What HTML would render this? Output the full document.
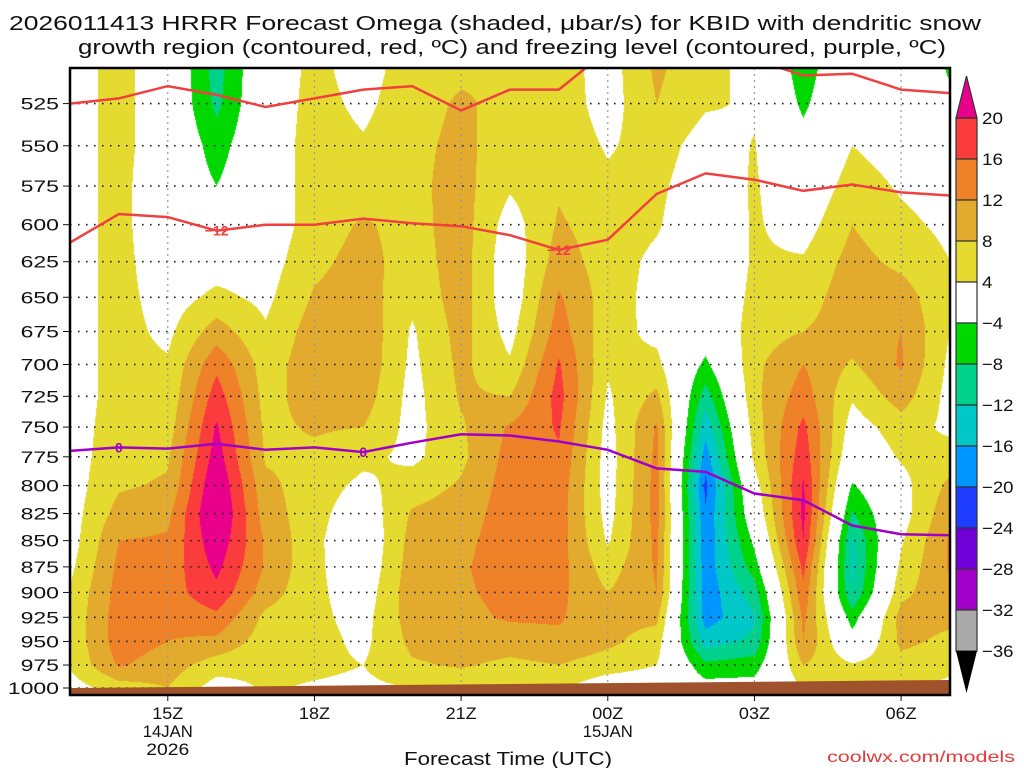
<!DOCTYPE html>
<html><head><meta charset="utf-8">
<style>
html,body{margin:0;padding:0;background:#fff;}
#wrap{position:relative;width:1024px;height:768px;overflow:hidden;background:#fff;font-family:"Liberation Sans",sans-serif;}
#shade{position:absolute;left:70px;top:68px;}
#ov{position:absolute;left:0;top:0;}
</style></head>
<body>
<div id="wrap">
<canvas id="shade" width="880" height="627"></canvas>
<svg id="ov" width="1024" height="768" xmlns="http://www.w3.org/2000/svg">
  <g id="grid"></g>
  <polygon id="terrain" fill="#a0522d"></polygon>
  <g id="lines"></g>
  <rect x="70" y="68" width="880" height="627" fill="none" stroke="#000" stroke-width="2.5"></rect>
  <g id="axes" font-family="Liberation Sans, sans-serif" fill="#111"></g>
  <g id="cbar"></g>
  <text x="495" y="30" font-size="20" text-anchor="middle" textLength="972" lengthAdjust="spacingAndGlyphs" fill="#111">2026011413 HRRR Forecast Omega (shaded, μbar/s) for KBID with dendritic snow</text>
  <text x="512" y="54" font-size="20" text-anchor="middle" textLength="868" lengthAdjust="spacingAndGlyphs" fill="#111">growth region (contoured, red, ºC) and freezing level (contoured, purple, ºC)</text>
  <text x="508" y="765" font-size="18" text-anchor="middle" textLength="208" lengthAdjust="spacingAndGlyphs" fill="#111">Forecast Time (UTC)</text>
  <text x="827" y="762" font-size="16" textLength="188" lengthAdjust="spacingAndGlyphs" fill="#e03c3c">coolwx.com/models</text>
</svg>
</div>
<script>
// ---- data ----
const times = [13,14,15,16,17,18,19,20,21,22,23,24,25,26,27,28,29,30,31];
const levels = [500,525,550,575,600,625,650,675,700,725,750,775,800,825,850,875,900,925,950,975,1000];
const omega13Z = [2,2,2,2,2,2,2,2,2,2,2,2,2,2,2,3,4.5,5,5,4.5,2];
const omega14Z = [5.5,5.5,5.5,5.5,5.5,5.5,5.5,5.5,5.5,5.5,6,6.5,7.5,9.5,12,13,13.5,14,14,12.5,6];
const omega15Z = [1,1,1,0,0,1,2,3,4.5,5,6,7.5,8.5,11,12.5,13.5,14,13,12,10,8];
const omega16Z = [-10,-9,-6,-4,-1,2,5,10,15,18,20.5,22,24,25,23,21,19,15,11,6,2];
const omega17Z = [1,1,1,1,1,2,3,4.5,6,6.5,7,7.5,9,10,11.5,11.5,10,7,6,5,4.5];
const omega18Z = [5,5.5,6,6,6,7,8.5,10,10.5,10,8.5,7,6,5.5,5,5,5,5,5.5,5,3.5];
const omega19Z = [2,3,4.5,6,8.5,9.5,10,11,11,10,8,5,3,1,0,0.5,1.5,2.5,3,4,3];
const omega20Z = [6,6.5,7,7,6.5,6,5,3.5,3,2.5,2.5,3,6,8.5,9.5,10,10.5,10,9,7.5,4];
const omega21Z = [7,8.5,9,9.5,10,10,10,9.5,9,8.5,7.5,7,8.5,10,11,11.5,11.5,11,10,8.5,5];
const omega22Z = [8,7,6,4.5,2,1,1,2.5,4.5,8,12.5,13.5,14,14,14,14,13,12.5,10,7,4];
const omega23Z = [6,6.5,7,7.5,8.5,10,12.5,14,16.5,17.5,16.5,15.5,14.5,14,14,13.5,13,12.5,11,8,4.5];
const omega00Z = [2,2,3.5,5,6,6,6,5.5,4.5,3.5,2.5,2,2,2.5,3.5,6,8,9,9,6,1];
const omega01Z = [9,8,6,5,4.5,3,2.5,3,5,9,12.5,13,13.5,13.5,13,12.5,12,9,6,4,1];
const omega02Z = [5,4.5,2,1,0,0,0,-1,-5,-10,-14.5,-18,-21,-19.5,-19,-18.5,-18.5,-18,-14,-7,-2];
const omega03Z = [3,3.5,4.2,4.5,4.5,4.5,5,6,7,7,6,5,2,0,-3,-6,-10,-12.5,-11,-6,-2];
const omega04Z = [-7,-5,-2,0,2,4.5,6,8,12,14,17,18.5,20.5,21,20,17,15,13,12,8,4];
const omega05Z = [2,2.5,4,6,8,9.5,10.5,10,7.5,4.5,2,0,-4.5,-8.5,-12.5,-13,-12,-6,-2,4.5,5];
const omega06Z = [1,1,2,3.5,5,7,10,12,12.5,10,6,4.5,2.5,2,3.5,5,7,9.5,9,6.5,4.5];
const omega07Z = [-5,-3,0,2,3,4,4.5,4,3,2.5,3,6,9,11,12.5,12.5,11,9,7,5,3];
const omegaColumns = [omega13Z,omega14Z,omega15Z,omega16Z,omega17Z,omega18Z,omega19Z,omega20Z,omega21Z,omega22Z,omega23Z,omega00Z,omega01Z,omega02Z,omega03Z,omega04Z,omega05Z,omega06Z,omega07Z];
// isotherm pressures (hPa) at each hour
const upperIsotherm = [525,522,515,520,527,522,517,515,529,517,517,495,485,490,500,509,508,517,519];
const minus12Isotherm = [612,593,595,604,600,600,596,599,601,607,617,610,580,567,571,578,574,579,581];
const freezingLevel = [770,767,768,764,769,767,771,763,756,757,762,769,785,788,807,813,836,844,845];
const yTickLevels = [525,550,575,600,625,650,675,700,725,750,775,800,825,850,875,900,925,950,975,1000];
const xTickTimes = [15,18,21,24,27,30];
const xTickLabels = ["15Z","18Z","21Z","00Z","03Z","06Z"];
const cbarLabels = ["20","16","12","8","4","−4","−8","−12","−16","−20","−24","−28","−32","−36"];
const cbarColors = ["#fb3c3c","#ef8228","#e3ab2e","#e5da30","#ffffff","#00d800","#00d28c","#00c8c8","#0096ff","#1e3cff","#7000d8","#a000c8","#aaaaaa"];

// ---- scales ----
const X0=70,X1=950,Y0=68,Y1=695;
function xs(t){return X0+(t-13)*(X1-X0)/18;}
function ys(p){return 688-907*Math.log(1000/p);}
function tOf(x){return 13+(x-X0)*18/(X1-X0);}
function pOf(y){return 1000*Math.exp(-(688-y)/907);}
function colorOf(v){
  if(v>=20) return [232,0,138];
  if(v>=16) return [251,60,60];
  if(v>=12) return [239,130,40];
  if(v>=8) return [227,171,46];
  if(v>=4) return [229,218,48];
  if(v>-4) return [255,255,255];
  if(v>-8) return [0,216,0];
  if(v>-12) return [0,210,140];
  if(v>-16) return [0,200,200];
  if(v>-20) return [0,150,255];
  if(v>-24) return [30,60,255];
  if(v>-28) return [112,0,216];
  if(v>-32) return [160,0,200];
  if(v>-36) return [170,170,170];
  return [0,0,0];
}
// ---- shading ----
(function(){
  const cv=document.getElementById('shade');const ctx=cv.getContext('2d');
  const W=cv.width,H=cv.height;const img=ctx.createImageData(W,H);
  const nT=times.length,nL=levels.length;
  for(let j=0;j<H;j++){
    let p=pOf(Y0+j+0.5);p=Math.max(levels[0],Math.min(levels[nL-1],p));
    let r=(p-levels[0])/25;let r0=Math.min(nL-2,Math.floor(r));let fr=r-r0;
    for(let i=0;i<W;i++){
      let t=tOf(X0+i+0.5);t=Math.max(times[0],Math.min(times[nT-1],t));
      let c=t-times[0];let c0=Math.min(nT-2,Math.floor(c));let fc=c-c0;
      const a=omegaColumns[c0],b=omegaColumns[c0+1];
      const v=(a[r0]*(1-fr)+a[r0+1]*fr)*(1-fc)+(b[r0]*(1-fr)+b[r0+1]*fr)*fc;
      const col=colorOf(v);const k=(j*W+i)*4;
      img.data[k]=col[0];img.data[k+1]=col[1];img.data[k+2]=col[2];img.data[k+3]=255;
    }
  }
  ctx.putImageData(img,0,0);
})();
const NS='http://www.w3.org/2000/svg';
function mk(tag,attrs,parent){const e=document.createElementNS(NS,tag);for(const k in attrs)e.setAttribute(k,attrs[k]);parent.appendChild(e);return e;}
// grid
const grid=document.getElementById('grid');
yTickLevels.forEach(p=>{
  const l=mk('line',{x1:X0,x2:X1,y1:ys(p),y2:ys(p),stroke:'#222','stroke-width':1.6,'stroke-dasharray':'1.6 6.4'},grid);
  
  
});
xTickTimes.forEach(t=>{
  const l=mk('line',{x1:xs(t),x2:xs(t),y1:Y0,y2:Y1,stroke:'#999','stroke-width':1.2,'stroke-dasharray':'2 4'},grid);
  
  
});
// terrain
document.getElementById('terrain').setAttribute('points',`${X0},688 ${X1},680 ${X1},695 ${X0},695`);
// lines
const lines=document.getElementById('lines');
const clip=mk('clipPath',{id:'pclip'},mk('defs',{},lines));mk('rect',{x:X0,y:Y0,width:X1-X0,height:Y1-Y0},clip);
function drawLine(arr,color,name){
  const pts=arr.map((p,i)=>xs(times[i]).toFixed(1)+','+ys(p).toFixed(1)).join(' ');
  const pl=mk('polyline',{points:pts,fill:'none',stroke:color,'stroke-width':2.5,'clip-path':'url(#pclip)'},lines);
  
  
}
drawLine(upperIsotherm,'#f04040','isotherm-upper');
drawLine(minus12Isotherm,'#f04040','isotherm-minus-12');
drawLine(freezingLevel,'#a000c8','freezing-level-line');
function lbl(t,arr,i,txt,color,name){
  const e=mk('text',{x:xs(t),y:ys(arr[i])+5,'font-size':14,'font-weight':'bold','text-anchor':'middle',fill:color,'font-family':'Liberation Sans, sans-serif'},lines);
  e.textContent=txt;
  
  
}
lbl(16,minus12Isotherm,3,'−12','#f04040','isotherm-label');
lbl(23,minus12Isotherm,10,'−12','#f04040','isotherm-label');
lbl(14,freezingLevel,1,'0','#a000c8','freezing-label');
lbl(19,freezingLevel,6,'0','#a000c8','freezing-label');
// axes
const axes=document.getElementById('axes');
yTickLevels.forEach(p=>{
  const y=ys(p);const s=String(p);
  mk('line',{x1:63,x2:X0,y1:y,y2:y,stroke:'#111','stroke-width':1},axes);
  const t=mk('text',{x:59,y:y+6,'font-size':17,'text-anchor':'end',textLength:(12.8*s.length).toFixed(1),lengthAdjust:'spacingAndGlyphs'},axes);t.textContent=s;
  
  
});
xTickTimes.forEach((tt,i)=>{
  const x=xs(tt);
  mk('line',{x1:x,x2:x,y1:Y1,y2:Y1+6,stroke:'#111','stroke-width':1},axes);
  const t=mk('text',{x:x,y:719,'font-size':17,'text-anchor':'middle',textLength:31,lengthAdjust:'spacingAndGlyphs'},axes);t.textContent=xTickLabels[i];
  
  
});
[[15,737,'14JAN',50],[15,755,'2026',43],[24,737,'15JAN',50]].forEach(d=>{
  const t=mk('text',{x:xs(d[0]),y:d[1],'font-size':17,'text-anchor':'middle',textLength:d[3],lengthAdjust:'spacingAndGlyphs'},axes);t.textContent=d[2];
  
  
});
// colorbar
const cb=document.getElementById('cbar');const CX=956,CW=21,CT=118,CH=41;
cbarColors.forEach((c,i)=>{
  const r=mk('rect',{x:CX,y:CT+i*CH,width:CW,height:CH,fill:c,stroke:'#333','stroke-width':1.2},cb);
  
  
});
const ta=mk('polygon',{points:`${CX},${CT} ${CX+CW},${CT} ${CX+CW/2},76`,fill:'#e8008a',stroke:'#333','stroke-width':1.2},cb);


const ba=mk('polygon',{points:`${CX},${CT+13*CH} ${CX+CW},${CT+13*CH} ${CX+CW/2},693`,fill:'#000'},cb);


cbarLabels.forEach((s,i)=>{
  const w=s.length*10.5;
  const t=mk('text',{x:982,y:CT+i*CH+6,'font-size':17,fill:'#111','font-family':'Liberation Sans, sans-serif',textLength:w,lengthAdjust:'spacingAndGlyphs'},cb);t.textContent=s;
  
  
});
</script>
</body></html>
